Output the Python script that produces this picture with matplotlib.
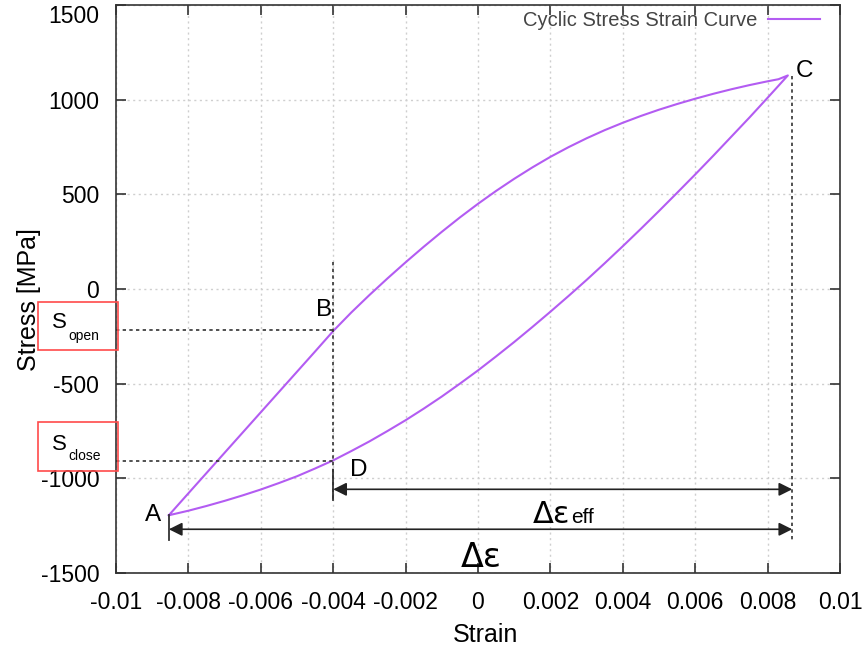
import numpy as np
import matplotlib
matplotlib.use("Agg")
import matplotlib.pyplot as plt
from matplotlib.patches import Rectangle

plt.rcParams["font.family"] = ["Liberation Sans", "DejaVu Sans"]
plt.rcParams["axes.unicode_minus"] = False

# loading branch, A -> C
strain_up = [-0.00854, -0.0080, -0.0075, -0.0070, -0.0065, -0.0060, -0.0055,
             -0.0050, -0.0045, -0.0040, -0.0035, -0.0030, -0.0025, -0.0020,
             -0.0015, -0.0010, -0.0005, 0.0000, 0.0005, 0.0010, 0.0015, 0.0020,
             0.0025, 0.0030, 0.0035, 0.0040, 0.0045, 0.0050, 0.0055, 0.0060,
             0.0065, 0.0070, 0.0075, 0.0080, 0.0083, 0.00856]
stress_up = [-1195, -1079, -972, -865, -758, -651, -544, -437, -330, -222,
             -124, -32, 56, 141, 223, 302, 378, 450, 518, 582, 642, 698, 749,
             796, 839, 878, 914, 947, 977, 1005, 1031, 1055, 1077, 1097, 1108,
             1128]

# unloading branch, C -> A
strain_down = [0.00856, 0.0080, 0.0075, 0.0070, 0.0065, 0.0060, 0.0055, 0.0050,
               0.0045, 0.0040, 0.0035, 0.0030, 0.0025, 0.0020, 0.0015, 0.0010,
               0.0005, 0.0000, -0.0005, -0.0010, -0.0015, -0.0020, -0.0025,
               -0.0030, -0.0035, -0.0040, -0.0045, -0.0050, -0.0055, -0.0060,
               -0.0065, -0.0070, -0.0075, -0.0080, -0.00854]
stress_down = [1128, 1010, 906, 805, 704, 605, 508, 412, 318, 226, 136, 48,
               -37, -120, -201, -280, -356, -430, -500, -568, -632, -693, -750,
               -805, -856, -905, -948, -989, -1025, -1059, -1090, -1119, -1146,
               -1171, -1195]

xticks = [-0.01, -0.008, -0.006, -0.004, -0.002, 0, 0.002, 0.004, 0.006, 0.008, 0.01]
xticklabels = ["-0.01", "-0.008", "-0.006", "-0.004", "-0.002", "0",
               "0.002", "0.004", "0.006", "0.008", "0.01"]
yticks = [-1500, -1000, -500, 0, 500, 1000, 1500]

# opening / closing levels and strain range markers
s_open = -219
s_close = -910
strain_open = -0.004
strain_min = -0.00854
strain_max = 0.00868

W, H = 868, 654
fig = plt.figure(figsize=(W / 100, H / 100), dpi=100)
ax = fig.add_axes([116 / W, 1 - 573 / H, 724 / W, 568 / H])

curve = "#b35cf2"
ax.plot(strain_up + strain_down, stress_up + stress_down, color=curve, lw=1.5,
        label="Cyclic Stress Strain Curve")

ax.set_xlim(-0.01, 0.01)
ax.set_ylim(-1500, 1500)
ax.set_xticks(xticks)
ax.set_xticklabels(xticklabels)
ax.set_yticks(yticks)
ax.grid(True, color="#cfcfcf", lw=1, ls=(0, (1.5, 2.5)))
ax.tick_params(direction="in", length=7, width=1.2, color="#333333",
               top=True, right=True, labelsize=16.5, pad=12)
ax.tick_params(axis="x", pad=13)
for sp in ax.spines.values():
    sp.set_color("#333333")
    sp.set_linewidth(1.2)
ax.get_yticklabels()[-1].set_va("top")

ax.set_xlabel("Strain", fontsize=18, va="center")
ax.xaxis.set_label_coords(0.51, -0.109)
ax.set_ylabel("Stress [MPa]", fontsize=18, va="center")
ax.yaxis.set_label_coords(-0.12, 0.482)

leg = ax.legend(loc="upper right", bbox_to_anchor=(0.9724, 0.99), frameon=False,
                markerfirst=False, fontsize=14.5, handlelength=2.6,
                handletextpad=0.5, borderpad=0, borderaxespad=0)
for t in leg.get_texts():
    t.set_color("#444444")

# guide lines
dot = dict(color="#333333", lw=1.2, ls=(0, (2, 2)))
ax.plot([-0.01, strain_open], [s_open, s_open], **dot)
ax.plot([-0.01, strain_open], [s_close, s_close], **dot)
ax.plot([strain_open, strain_open], [140, -1116], **dot)
ax.plot([strain_max, strain_max], [1127, -1327], **dot)
ax.plot([strain_open, strain_open], [-958, -1116], color="#333333", lw=1.3)
ax.plot([strain_min, strain_min], [-1195, -1327], color="#333333", lw=1.3)

arrow = dict(arrowstyle="<|-|>", color="#222222", lw=1.2, mutation_scale=20,
             shrinkA=0, shrinkB=0)
ax.annotate("", xy=(strain_open, -1058), xytext=(strain_max, -1058),
            arrowprops=arrow)
ax.annotate("", xy=(strain_min, -1269), xytext=(strain_max, -1269),
            arrowprops=arrow)

greek = ["DejaVu Sans"]
ax.text(0.002541, -1237, "Δε", fontsize=22, family=greek, ha="right", va="baseline")
ax.text(0.00258, -1237, "eff", fontsize=15, ha="left", va="baseline")
ax.text(0.000083, -1470, "Δε", fontsize=24, family=greek, ha="center", va="baseline")

pts = {"A": (-0.00898, -1227), "B": (-0.004254, -145),
       "C": (0.009033, 1121), "D": (-0.003287, -989)}
for name, (px, py) in pts.items():
    ax.text(px, py, name, fontsize=17.5, ha="center", va="baseline")


def fpos(x, y):
    return x / W, 1 - y / H


# S_open / S_close boxes at the left of the axis
for top, bottom, sub, s_base, sub_base in [(302, 350, "open", 328, 340),
                                           (422, 471, "close", 450, 460)]:
    x0, y0 = fpos(38, bottom)
    fig.add_artist(Rectangle((x0, y0), 80 / W, (bottom - top) / H,
                             transform=fig.transFigure, fill=False,
                             edgecolor="#ff4a4a", lw=1.2))
    fig.text(*fpos(52, s_base), "S", fontsize=16, ha="left", va="baseline")
    fig.text(*fpos(68, sub_base), sub, fontsize=10, ha="left", va="baseline")

fig.savefig("out.png", dpi=100)
